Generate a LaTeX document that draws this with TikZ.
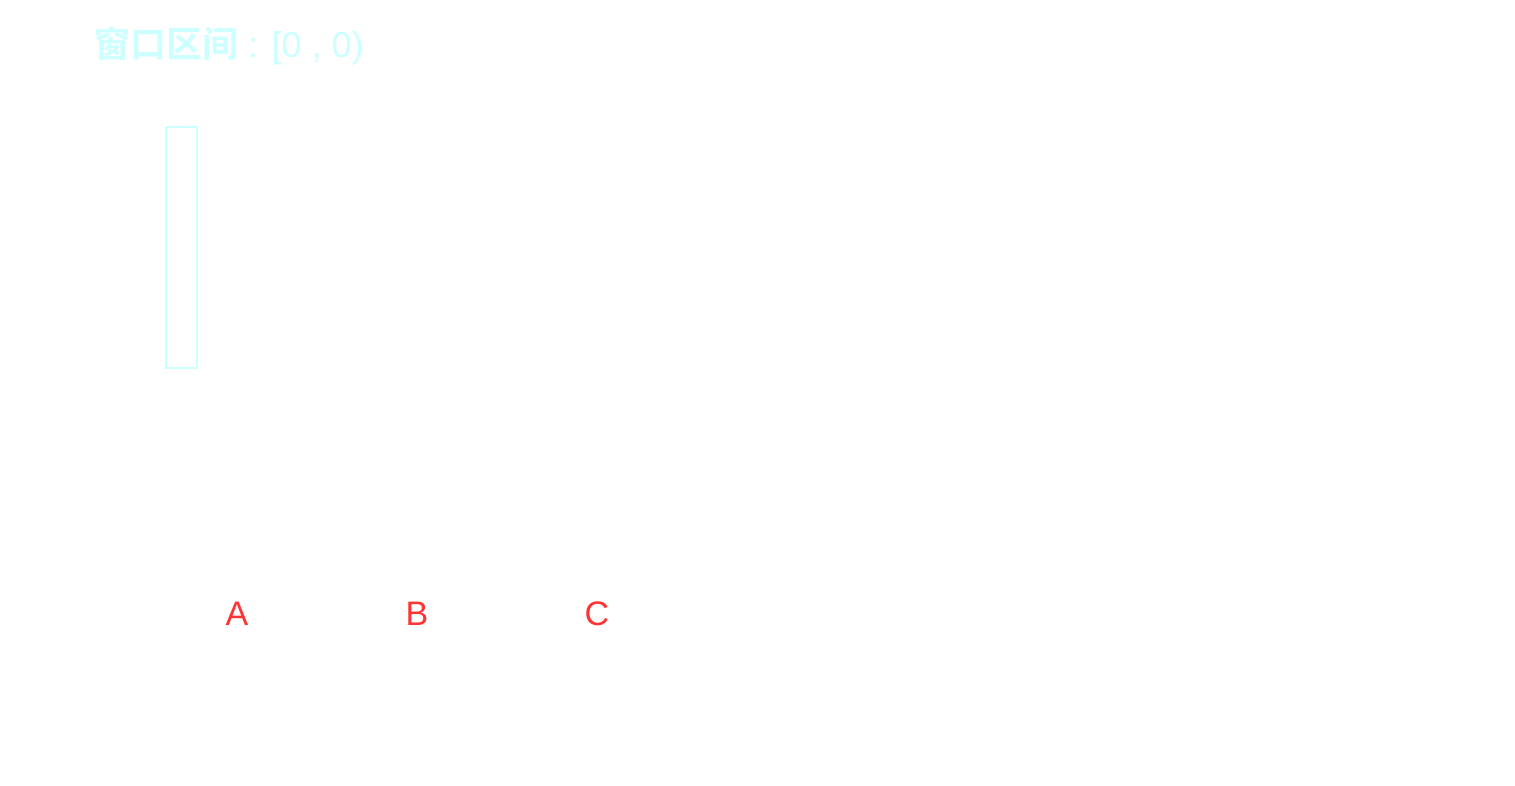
\documentclass[tikz,border=0pt]{standalone}
\usepackage{fontspec}
\setmainfont{Liberation Sans}
\newfontfamily\cjk{Noto Sans CJK SC}[BoldFont={* Bold}]
\definecolor{winc}{HTML}{CCFFFF}
\definecolor{lbl}{HTML}{FF3333}
\begin{document}
\begin{tikzpicture}[x=1pt,y=-1pt,
  title/.style={anchor=base west,inner sep=0pt,text=winc,font=\fontsize{36}{40}\selectfont},
  win/.style={draw=winc,line width=2.5pt,minimum width=31pt,minimum height=241pt,inner sep=0pt},
  letter/.style={text=lbl,inner sep=0pt,font=\fontsize{34}{38}\selectfont}]
\useasboundingbox (0,0) rectangle (1515,786);
\node[title] (t) at (94,58) {{\cjk\bfseries 窗口区间} : [0 , 0)};
\node[win] (w) at (181.5,247.5) {};
\node[letter] (a) at (237,614) {A};
\node[letter] (b) at (417,614) {B};
\node[letter] (c) at (597,614) {C};
\end{tikzpicture}
\end{document}
